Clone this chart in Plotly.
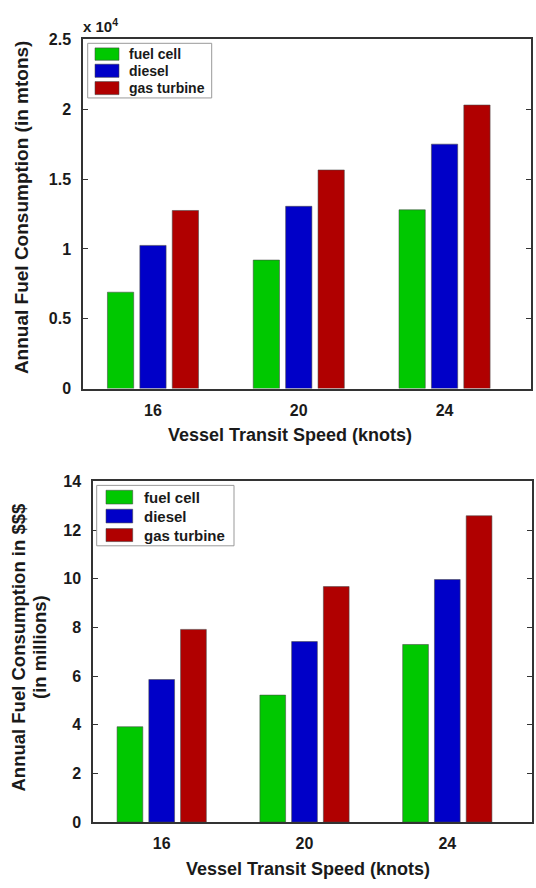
import plotly.graph_objects as go

speeds = ["16", "20", "24"]
series = ["fuel cell", "diesel", "gas turbine"]
colors = ["#00c800", "#0000c8", "#b00000"]

fuel_mtons = {
    "fuel cell": [6900, 9200, 12800],
    "diesel": [10250, 13050, 17500],
    "gas turbine": [12750, 15650, 20300],
}
fuel_cost_millions = {
    "fuel cell": [3.92, 5.22, 7.30],
    "diesel": [5.86, 7.42, 9.97],
    "gas turbine": [7.92, 9.68, 12.59],
}

top_yticks = [0, 5000, 10000, 15000, 20000, 25000]
top_yticktext = ["0", "0.5", "1", "1.5", "2", "2.5"]
bot_yticks = [0, 2, 4, 6, 8, 10, 12, 14]

W, H = 536, 888
FONT = "Liberation Sans"
AXC = "#333333"
TXT = "#1a1a1a"


def px(x):
    return x / W


def py(y):
    return 1 - y / H


fig = go.Figure()
xs = [1, 2, 3]
edge = dict(color="rgba(70,70,70,0.55)", width=1)
for s, c in zip(series, colors):
    fig.add_trace(go.Bar(x=xs, y=fuel_mtons[s], name=s, marker=dict(color=c, line=edge),
                         xaxis="x", yaxis="y", showlegend=False))
for s, c in zip(series, colors):
    fig.add_trace(go.Bar(x=xs, y=fuel_cost_millions[s], name=s, marker=dict(color=c, line=edge),
                         xaxis="x2", yaxis="y2", showlegend=False))

tickfont = dict(family=FONT, size=16, color=TXT, weight="bold")
common_x = dict(tickvals=xs, ticktext=speeds, showline=True, linecolor=AXC, linewidth=1.5, mirror=True,
                ticks="", showgrid=False, zeroline=False, tickfont=tickfont, ticklabelstandoff=6, fixedrange=True)
common_y = dict(showline=True, linecolor=AXC, linewidth=1.5, mirror="ticks", ticks="inside", ticklen=5,
                tickcolor=AXC, showgrid=False, zeroline=False, tickfont=tickfont, ticklabelstandoff=7, fixedrange=True)

top_dom_x = [px(83), px(531)]
top_dom_y = [py(388), py(32)]
bot_dom_x = [px(93), px(531.7)]
bot_dom_y = [py(830), py(482.7)]

fig.update_layout(
    width=W, height=H, autosize=False,
    margin=dict(l=0, r=0, t=0, b=0),
    paper_bgcolor="white", plot_bgcolor="white",
    barmode="group", bargap=0.333, bargroupgap=0.19,
    xaxis=dict(domain=top_dom_x, anchor="y", range=[0.52, 3.593], **common_x),
    yaxis=dict(domain=top_dom_y, anchor="x", range=[0, 25000], tickvals=top_yticks, ticktext=top_yticktext, **common_y),
    xaxis2=dict(domain=bot_dom_x, anchor="y2", range=[0.519, 3.591], **common_x),
    yaxis2=dict(domain=bot_dom_y, anchor="x2", range=[0, 14], tickvals=bot_yticks, **common_y),
    xaxis3=dict(domain=top_dom_x, anchor="y", overlaying="x", side="top", range=[0.5, 3.5], tickvals=xs,
                ticks="inside", ticklen=5, tickcolor=AXC, showticklabels=False, showline=False, showgrid=False,
                zeroline=False, fixedrange=True),
    xaxis4=dict(domain=bot_dom_x, anchor="y2", overlaying="x2", side="top", range=[0.5, 3.5], tickvals=xs,
                ticks="inside", ticklen=5, tickcolor=AXC, showticklabels=False, showline=False, showgrid=False,
                zeroline=False, fixedrange=True),
)

ann = []
shapes = []
tfont = dict(family=FONT, size=18, color=TXT, weight="bold")
yfont = dict(family=FONT, size=18.5, color=TXT, weight="bold")
ann.append(dict(x=px(290), y=py(435), xref="paper", yref="paper", text="Vessel Transit Speed (knots)",
                showarrow=False, xanchor="center", yanchor="middle", font=tfont))
ann.append(dict(x=px(308), y=py(877.5), xref="paper", yref="paper", text="Vessel Transit Speed (knots)",
                showarrow=False, xanchor="center", yanchor="middle", font=tfont))
ann.append(dict(x=px(21), y=py(203), xref="paper", yref="paper", text="Annual Fuel Consumption (in mtons)",
                showarrow=False, xanchor="center", yanchor="middle", textangle=-90,
                font=dict(family=FONT, size=19, color=TXT, weight="bold")))
ann.append(dict(x=px(19), y=py(652), xref="paper", yref="paper", text="Annual Fuel Consumption in $$$",
                showarrow=False, xanchor="center", yanchor="middle", textangle=-90, font=yfont))
ann.append(dict(x=px(39.5), y=py(652), xref="paper", yref="paper", text="(in millions)",
                showarrow=False, xanchor="center", yanchor="middle", textangle=-90, font=yfont))
ann.append(dict(x=px(81), y=py(18), xref="paper", yref="paper", text="x 10<sup>4</sup>",
                showarrow=False, xanchor="left", yanchor="middle", font=dict(family=FONT, size=15, color=TXT, weight="bold")))

# custom legends
legends = [
    dict(box=(87.7, 36, 211.7, 91.7), sw=(95, 119), rows=[(40.7, 53.3), (57.3, 70.7), (75, 88.3)], tx=126.5, fs=14),
    dict(box=(96.7, 486.7, 234, 548.3), sw=(106, 132.7), rows=[(491.7, 505.7), (511, 525), (530.7, 544)], tx=141.5, fs=15),
]
for lg in legends:
    x0, y0, x1, y1 = lg["box"]
    shapes.append(dict(type="rect", xref="paper", yref="paper", x0=px(x0), x1=px(x1), y0=py(y1), y1=py(y0),
                       line=dict(color="#999999", width=1), fillcolor="white", layer="above"))
    for (r0, r1), s, c in zip(lg["rows"], series, colors):
        shapes.append(dict(type="rect", xref="paper", yref="paper", x0=px(lg["sw"][0]), x1=px(lg["sw"][1]),
                           y0=py(r1), y1=py(r0), line=edge, fillcolor=c, layer="above"))
        ann.append(dict(x=px(lg["tx"]), y=py((r0 + r1) / 2), xref="paper", yref="paper", text=s, showarrow=False,
                        xanchor="left", yanchor="middle", font=dict(family=FONT, size=lg["fs"], color=TXT, weight="bold")))

fig.update_layout(annotations=ann, shapes=shapes)
fig.write_html("out.html")
